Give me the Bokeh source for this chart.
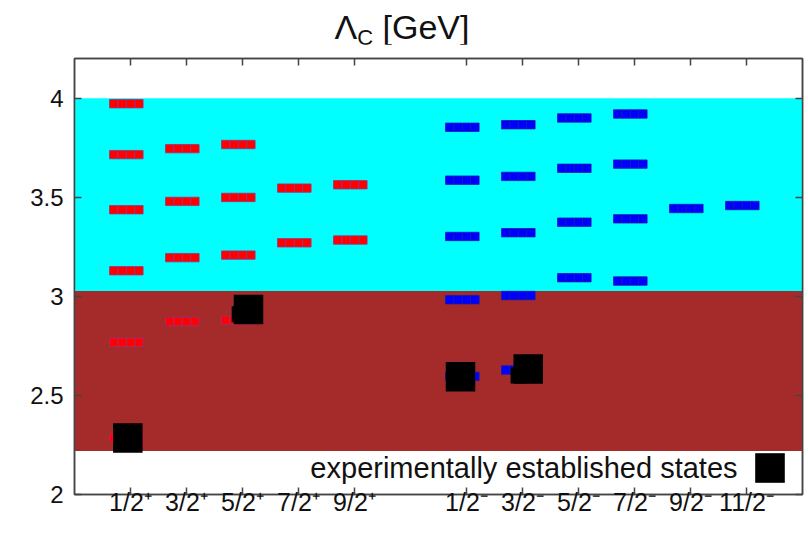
from bokeh.plotting import figure
from bokeh.models import (Range1d, FixedTicker, LinearAxis, BoxAnnotation, Label,
                          Legend, LegendItem, ColumnDataSource, Div)
from bokeh.layouts import column
from bokeh.transform import dodge
from bokeh.embed import file_html
from bokeh.resources import INLINE

# ---------------- data ----------------
# J^P categories (x positions on the axis) and their tick labels
jp_pos = [1, 2, 3, 4, 5, 7, 8, 9, 10, 11, 12]
jp_labels = ["1/2⁺", "3/2⁺", "5/2⁺", "7/2⁺", "9/2⁺",
             "1/2⁻", "3/2⁻", "5/2⁻", "7/2⁻", "9/2⁻", "11/2⁻"]

y_ticks = [2, 2.5, 3, 3.5, 4]
y_tick_labels = ["2", "2.5", "3", "3.5", "4"]

# positive parity model states (red)
pos_x = [1, 1, 1, 1, 1, 1,
         2, 2, 2, 2,
         3, 3, 3, 3,
         4, 4,
         5, 5]
pos_m = [2.286, 2.768, 3.129, 3.437, 3.715, 3.972,
         2.873, 3.195, 3.479, 3.745,
         2.880, 3.208, 3.499, 3.766,
         3.270, 3.546,
         3.284, 3.563]

# negative parity model states (blue)
neg_x = [7, 7, 7, 7, 7,
         8, 8, 8, 8, 8,
         9, 9, 9, 9,
         10, 10, 10, 10,
         11,
         12]
neg_m = [2.596, 2.983, 3.302, 3.586, 3.853,
         2.628, 3.004, 3.321, 3.605, 3.866,
         3.094, 3.374, 3.646, 3.900,
         3.077, 3.391, 3.667, 3.920,
         3.443,
         3.458]

# experimentally established states (black)
exp_x = [0.952, 3.107, 6.893, 8.102]
exp_m = [2.285, 2.934, 2.594, 2.633]
exp_hidden_x = [2.95, 7.93]
exp_hidden_m = [2.91, 2.60]

# shaded mass bands
band_low = [2.22, 3.027]
band_high = [3.027, 4.0]

legend_text = "experimentally established states"

FONT = "Liberation Sans"
INK = "#444444"
TXT = "#111111"
W = 804

title = Div(text='<div style="font-family:\'Liberation Sans\',Arial,sans-serif;font-size:34px;'
                 'line-height:32px;text-align:center;color:#111111;padding-top:11px;width:%dpx;">'
                 'Λ<sub style="font-size:22px;vertical-align:-6px;">C</sub> [GeV]</div>' % W,
            width=W, height=44, margin=0)

p = figure(width=W, height=488, x_range=Range1d(0, 13), y_range=Range1d(2, 4.2),
           output_backend="svg", toolbar_location=None,
           min_border_left=74, min_border_right=W - 74 - 728, min_border_top=14,
           min_border_bottom=38,
           x_axis_location=None, y_axis_location=None, margin=0)
p.grid.visible = False
p.outline_line_color = INK
p.outline_line_width = 1.5
p.background_fill_color = "white"
p.border_fill_color = "white"

# bands
p.add_layout(BoxAnnotation(bottom=band_low[0], top=band_high[0], fill_color="#a52a2a",
                           fill_alpha=1, line_color=None, level="underlay"))
p.add_layout(BoxAnnotation(bottom=band_low[1], top=band_high[1], fill_color="#00ffff",
                           fill_alpha=1, line_color=None, level="underlay"))

# axes (ticks on all four sides, pointing inward)
def make_axis(ticks, labels, show):
    ax = LinearAxis(ticker=FixedTicker(ticks=ticks))
    ax.major_label_overrides = {t: (l if show else "") for t, l in zip(ticks, labels)}
    ax.major_tick_in = 7
    ax.major_tick_out = 0
    ax.minor_tick_in = 0
    ax.minor_tick_out = 0
    ax.axis_line_color = INK
    ax.axis_line_width = 1.5
    ax.major_tick_line_color = INK
    ax.major_tick_line_width = 1.5
    ax.major_label_text_font = FONT
    ax.major_label_text_font_size = "24px"
    ax.major_label_text_color = TXT
    ax.major_label_standoff = 10 if show else 0
    return ax

bottom = make_axis(jp_pos, jp_labels, True)
bottom.major_label_standoff = -7
bottom.major_label_text_font_size = "25px"
p.add_layout(bottom, "below")
p.add_layout(make_axis(jp_pos, jp_labels, False), "above")
left = make_axis(y_ticks, y_tick_labels, True)
left.major_label_standoff = 11
p.add_layout(left, "left")
p.add_layout(make_axis(y_ticks, y_tick_labels, False), "right")

# model states, each drawn as a row of four small squares
pos_src = ColumnDataSource(dict(x=pos_x, m=pos_m))
neg_src = ColumnDataSource(dict(x=neg_x, m=neg_m))
for off in [-0.3, -0.15, 0.0, 0.15]:
    p.scatter(x=dodge("x", off), y="m", source=pos_src, marker="square", size=8.4,
              fill_color="#ff0000", line_color="#a0307a", line_width=0.8)
    p.scatter(x=dodge("x", off), y="m", source=neg_src, marker="square", size=8.4,
              fill_color="#0000ff", line_color="#1818b0", line_width=0.8)

# experimental states
p.rect(x=exp_hidden_x, y=exp_hidden_m, width=16, height=16, width_units="screen",
       height_units="screen", fill_color="black", line_color=None)
exp_r = p.rect(x=exp_x, y=exp_m, width=29.5, height=29.5, width_units="screen",
               height_units="screen", fill_color="black", line_color=None)

# legend: key box via Legend, text via a Label to its left
legend = Legend(items=[LegendItem(label="", renderers=[exp_r])],
                location=(677, 8), glyph_width=37, glyph_height=37,
                label_standoff=0, label_width=0,
                background_fill_alpha=0, border_line_color=None, padding=0, margin=0)
p.add_layout(legend)
p.add_layout(Label(x=11.84, y=2.136, text=legend_text, text_align="right",
                   text_baseline="middle", text_font=FONT, text_font_size="29px",
                   text_color=TXT))

open("out.html", "w").write(file_html(column(title, p, spacing=0), INLINE))
